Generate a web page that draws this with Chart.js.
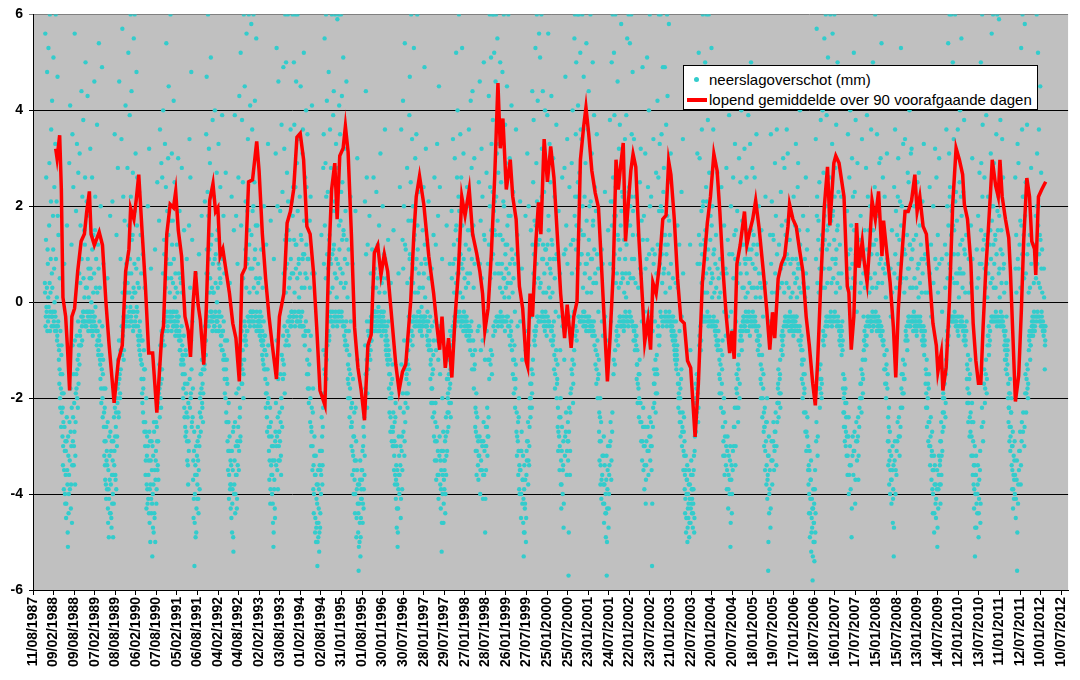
<!DOCTYPE html>
<html>
<head>
<meta charset="utf-8">
<script src="https://cdn.jsdelivr.net/npm/chart.js@4/dist/chart.umd.min.js"></script>
<style>
    html, body { margin: 0; padding: 0; background: #fff; }
    #wrap   { position: relative; width: 1080px; height: 680px; }
    #legend {
        position: absolute; left: 683px; top: 65px; width: 353px; height: 43px;
        background: #fff; border: 1px solid #000;
        font: 15px "Liberation Sans", Arial, sans-serif; color: #000;
    }
    .row    { position: absolute; left: 0; height: 18px; line-height: 18px; white-space: nowrap; }
    .row span.txt { position: absolute; left: 25px; top: 0; }
    .dot    { position: absolute; left: 10px; top: 6px; width: 5px; height: 5px; border-radius: 50%; background: #33CCCC; }
    .ln     { position: absolute; left: 3px; top: 7px; width: 20px; height: 4px; background: #FF0000; }
</style>
</head>
<body>
<div id="wrap">
    <canvas id="chart" width="1080" height="680"></canvas>
    <div id="legend">
        <div class="row" style="top:5px"><span class="dot"></span><span class="txt" id="lg0"></span></div>
        <div class="row" style="top:25px"><span class="ln"></span><span class="txt" id="lg1"></span></div>
    </div>
</div>
<script>
// x-axis tick labels (Excel date axis, one every 182 days)
const tickLabels = [
    "11/08/1987","09/02/1988","09/08/1988","07/02/1989","08/08/1989","06/02/1990","07/08/1990",
    "05/02/1991","06/08/1991","04/02/1992","04/08/1992","02/02/1993","03/08/1993","01/02/1994",
    "02/08/1994","31/01/1995","01/08/1995","30/01/1996","30/07/1996","28/01/1997","29/07/1997",
    "27/01/1998","28/07/1998","26/01/1999","27/07/1999","25/01/2000","25/07/2000","23/01/2001",
    "24/07/2001","22/01/2002","23/07/2002","21/01/2003","22/07/2003","20/01/2004","20/07/2004",
    "18/01/2005","19/07/2005","17/01/2006","18/07/2006","16/01/2007","17/07/2007","15/01/2008",
    "15/07/2008","13/01/2009","14/07/2009","12/01/2010","13/07/2010","11/01/2011","12/07/2011",
    "10/01/2012","10/07/2012"
];
const yTicks = [-6, -4, -2, 0, 2, 4, 6];

const seriesLabels = ["neerslagoverschot (mm)", "lopend gemiddelde over 90 voorafgaande dagen"];

// running 90-day mean: days since 11/08/1987, value in mm
const avgDays = [
    201,213,236,251,265,289,304,324,344,368,396,426,455,475,499,514,543,586,615,645,674,718,755,790,820,849,864,893,913,936,
    965,995,1024,1059,1096,1140,1155,1184,1214,1243,1263,1286,1315,1345,1374,1394,1418,1438,1461,1481,1511,1534,1564,1593,1616,1636,1656,1680,1709,1739,
    1768,1796,1826,1849,1879,1908,1943,1980,2001,2030,2059,2089,2118,2155,2181,2220,2249,2278,2307,2336,2365,2395,2424,2453,2482,2511,2540,2584,2614,2643,
    2671,2692,2715,2745,2765,2789,2818,2846,2876,2905,2934,2964,2993,3021,3051,3080,3109,3139,3182,3211,3240,3270,3299,3343,3371,3392,3421,3459,3503,3546,
    3576,3599,3620,3649,3678,3707,3736,3765,3795,3824,3861,3891,3926,3955,3979,3999,4028,4057,4086,4115,4136,4159,4189,4224,4246,4276,4305,4334,4364,4378,
    4399,4421,4451,4474,4495,4524,4553,4582,4611,4640,4670,4705,4728,4763,4786,4815,4845,4874,4894,4918,4946,4976,5005,5034,5064,5084,5107,5136,5160,5180,
    5200,5224,5244,5268,5291,5311,5335,5364,5393,5414,5443,5466,5486,5515,5545,5574,5603,5626,5646,5676,5705,5734,5764,5793,5821,5860,5889,5924,5968,5996,
    6026,6055,6079,6108,6136,6166,6186,6206,6230,6259,6297,6318,6346,6370,6396,6425,6464,6493,6521,6545,6565,6595,6624,6653,6682,6696,6726,6755,6784,6814,
    6843,6871,6901,6924,6945,6974,7003,7032,7053,7088,7105,7134,7149,7178,7207,7221,7242,7265,7289,7309,7339,7359,7382,7405,7426,7455,7484,7514,7528,7557,
    7586,7615,7636,7659,7680,7718,7746,7776,7805,7825,7849,7878,7907,7936,7965,7995,8009,8039,8053,8082,8111,8140,8170,8199,8228,8243,8271,8301,8321,8345,
    8368,8389,8409,8432,8455,8476,8490,8520,8543,8558,8578,8607,8636,8651,8671,8695,8724,8747,8768,8796,8820,8840,8864,8875,8899,8928,8963
];
const avgVals = [
    3.2,3.0,3.48,2.35,0.1,-0.3,-0.9,-1.84,-0.3,-0.13,0.65,1.27,1.42,1.88,2.31,1.42,1.19,1.46,1.19,0.02,-0.9,-2.1,-1.22,-0.9,0.64,1.1,1.96,1.73,2.12,2.66,
    1.5,0.33,-1.06,-1.06,-2.3,-0.68,-0.5,1.42,2.04,1.97,2.31,1.5,0.96,-0.3,-0.6,-1.14,0.02,0.65,-0.05,-0.37,-1.3,-0.13,2.12,2.47,1.89,1.97,0.96,1.11,0.65,0.18,
    -0.44,-0.75,-1.65,0.57,0.72,2.51,2.55,3.35,2.74,1.42,0.49,-0.3,-0.9,-1.6,-0.3,0.18,1.65,1.89,2.35,3.44,3.52,2.97,1.58,1.42,0.64,-0.52,-1.84,-2.15,0.64,2.35,
    2.9,1.73,3.05,3.21,3.67,3.13,1.42,-0.52,-1.37,-1.84,-2.46,-0.9,-0.68,1.03,1.19,0.57,1.0,0.64,-0.52,-1.3,-1.84,-1.45,-1.3,0.02,1.42,2.2,2.63,2.04,0.96,0.18,
    -0.52,-0.99,-0.3,-1.37,-0.75,-1.57,-0.3,0.64,2.2,1.81,2.35,1.42,1.03,0.64,0.18,-0.6,-0.13,1.03,2.59,4.57,3.21,3.83,2.35,2.97,2.2,1.73,0.33,-0.13,-1.22,-1.34,
    0.18,-0.3,1.27,2.08,1.42,3.4,2.51,3.25,2.59,1.42,0.18,-0.75,-0.05,-0.95,-0.3,0.02,2.97,3.67,4.06,3.52,2.74,2.28,1.97,0.64,-0.75,-1.65,-0.75,0.64,2.97,2.35,
    2.82,3.32,1.27,2.04,2.74,3.09,2.82,1.27,0.1,-0.83,-0.37,-0.99,0.41,0.18,0.8,1.73,1.81,2.94,2.66,1.73,0.49,-0.37,-0.44,-1.22,-1.37,-2.81,-1.7,0.4,1.65,2.2,
    3.09,2.74,1.89,0.64,-0.3,-1.06,-0.6,-1.18,0.8,1.19,1.89,1.19,1.5,1.73,2.12,1.58,0.64,-0.13,-0.99,-0.21,-0.75,0.49,0.8,0.96,1.58,2.04,1.73,1.58,1.1,0.64,
    -0.3,-0.9,-1.69,-2.15,-1.22,0.49,1.97,2.82,1.6,2.9,3.05,2.9,2.66,2.2,0.33,0.2,-0.99,-0.3,1.65,0.72,1.27,0.8,0.41,1.19,2.12,1.73,2.31,0.96,1.7,1.03,
    0.41,-0.52,-1.57,-0.13,0.64,1.89,1.89,2.12,2.66,1.89,2.2,1.58,1.42,0.49,-0.44,-0.9,-1.45,-1.05,-1.84,-1.37,0.02,2.04,3.21,2.97,2.66,2.04,1.73,0.8,-0.44,-1.22,
    -1.69,-1.69,-0.52,0.64,1.5,2.35,2.97,2.43,2.2,2.97,2.2,1.73,1.34,0.64,-0.6,-2.07,-1.53,-0.21,1.27,2.59,2.2,1.27,1.11,0.57,2.2,2.35,2.51
];

// daily precipitation surplus (mm). Each yearly list starts on 24/11 of the previous year:
// sYYYY holds days 0,4,8,... and mYYYY holds the days in between (2,6,10,...)
const SCATTER_STEP = 4;
const s1988 = [0.4,5.6,-0.3,2.6,-0.2,4.8,1.1,-0.4, 5.3,-0.3,2.9,6,-0.2,0.9,3.6,-0.5, 4.2,-0.3,1.8,5.1,-0.4,2.4,-0.2, 3.3,6,-0.6,2.1,-0.8,4.7,-0.5,1.4,
    -1.2,-1.7,0.5,-2.2,-1.5,-2.6,-0.9,-1.9, -2.8,-3.4,-2.5,-3.9,0.8,-3.1,-4.2, -3.6,-4.5,-2.9,1.6,-3.8,-5.1,-3.2,-4.0, 2.9,-3.3,4.1,-2.7,-3.8,1.2,-4.6,3.5,
    -2.9,2.4,-3.4,-2.1,5.6,-3.8,-2.5, 1.9,-1.8,3.3,-1.4,-2.2,2.7,-1.1,0.6, 3.1,-0.7,1.6,-0.9,4.4,-0.5,2.2, -0.3,3.8,-0.2,1.5,-0.4,2.6,5.0];
const m1988 = [0.2,-0.5,1.3,-0.1,0.3,-0.6,0.8,0.1, -0.1,1.6,0.4,-0.6,0.2,2.1,-0.3,0.6, 0.3,-0.2,1.1,-0.5,0.7,0.0,-0.6, -0.3,0.9,-0.5,0.1,-0.7,1.8,-0.4,-0.9,
    -1.0,-1.4,-2.0,-0.6,-1.8,-1.1,-2.3,-1.5, -2.2,-3.0,-1.9,-3.5,-2.6,-4.0,-2.9, -3.1,-4.2,-2.4,-3.5,-4.8,-2.8,-4.4,-3.6, -2.5,-3.9,-1.8,-4.3,-3.0,-2.2,-3.4,-0.9,
    -2.4,-1.5,-3.0,-2.7,-0.8,-3.2,-1.9, -1.5,-0.7,-2.0,-1.2,-0.4,-1.7,-0.9,-1.3, -0.6,0.4,-0.9,-0.3,0.9,-0.8,-0.4, -0.2,0.5,-0.4,0.1,1.2,-0.5,0.3];
const s1989 = [-0.2,2.1,-0.4,4.3,-0.3,0.7,-0.2,1.8, -0.4,3.2,-0.3,0.5,-0.5,2.6,-0.2,-0.6, 1.4,-0.4,4.6,-0.3,2.2,-0.5,0.9, -0.6,3.7,-0.8,1.2,-1.0,5.4,-0.7,0.3,
    -1.3,2.0,-1.8,-1.1,4.9,-2.0,-1.5,0.8, -2.6,-3.2,-2.2,-3.7,-2.9,-4.1,-3.3, -3.9,0.5,-4.3,-3.5,-4.9,-2.8,-3.7,1.8, -4.4,-3.1,-4.7,-3.6,2.1,-4.0,-2.9,-4.2,
    -3.4,3.5,-2.8,-3.7,-2.3,1.4,-3.0, -2.1,2.8,-1.7,-2.4,4.6,-1.5,-1.9,0.9, -1.0,3.4,-0.8,5.7,-0.6,2.2,-1.2, -0.4,1.7,-0.3,4.1,-0.5,0.6,-0.3];
const m1989 = [-0.5,0.3,-0.2,0.9,-0.6,0.1,-0.4,0.5, -0.2,0.7,-0.6,0.0,-0.4,1.1,-0.7,0.2, -0.3,0.6,-0.5,1.5,-0.1,0.3,-0.6, -0.9,0.2,-0.6,-1.1,0.7,-0.8,-0.4,-1.2,
    -1.6,-0.9,-2.1,-1.4,-0.5,-2.4,-1.2,-1.8, -2.3,-2.9,-3.4,-1.8,-3.8,-2.6,-3.1, -3.4,-2.5,-4.6,-3.9,-4.1,-3.2,-4.4,-2.7, -3.8,-4.5,-2.9,-4.2,-3.3,-4.9,-3.6,-2.4,
    -3.1,-2.2,-3.6,-2.6,-3.9,-2.0,-2.8, -1.8,-1.2,-2.3,-0.8,-1.6,-2.0,-1.0,-1.4, -0.8,-0.5,-1.1,0.2,-0.7,-0.3,-1.0, -0.3,0.4,-0.5,-0.1,0.8,-0.4,0.2];
const s1990 = [2.8,-0.3,5.2,0.6,-0.2,3.9,-0.4,6, -0.3,4.4,1.3,-0.2,2.7,-0.5,5.5,0.2, 6,-0.4,3.1,-0.3,4.8,1.6,-0.2, -0.7,0.9,-0.9,2.3,-0.6,-1.1,1.4,-0.8,
    -1.6,-1.3,-2.1,1.0,-1.8,-2.5,-1.4,0.3, -3.0,-3.6,-2.7,-4.3,-3.2,-3.9,2.0, -4.1,-3.3,3.2,-4.6,-2.9,-3.8,0.7,-4.4, -3.5,-5.3,-4.0,-3.2,-4.8,-2.7,-4.5,1.1,
    -3.7,-3.1,-4.2,-2.6,2.5,-3.4,-2.9, -2.2,1.7,-1.8,3.6,-2.0,-1.4,2.9,-1.6, 2.6,-0.8,4.0,-0.6,1.3,-0.9,3.3, -0.4,2.4,5.4,-0.3,1.9,-0.5,3.0];
const m1990 = [0.4,-0.3,1.6,-0.5,0.2,0.9,-0.1,2.2, 0.6,-0.4,0.1,1.4,-0.6,0.3,-0.2,0.8, 1.9,0.2,-0.5,0.7,-0.1,2.6,0.4, -0.5,-0.8,0.3,-1.0,-0.4,-0.7,-1.2,0.6,
    -1.3,-1.9,-0.8,-2.3,-1.6,-1.0,-2.7,-1.4, -2.5,-3.3,-2.0,-3.8,-2.8,-4.2,-3.0, -3.6,-4.4,-2.7,-3.9,-5.0,-3.3,-4.1,-2.9, -4.2,-3.0,-4.7,-3.8,-2.5,-4.4,-3.5,-5.0,
    -3.3,-2.5,-3.9,-2.9,-3.5,-2.1,-3.7, -1.9,-1.3,-2.4,-0.9,-1.7,-2.2,-0.6,-1.4, -0.7,0.6,-0.9,-0.4,1.0,-0.6,-0.2, 0.3,-0.4,0.9,-0.2,0.5,-0.6,1.4];
const s1991 = [4.5,-0.3,2.0,-0.2,6,0.8,-0.4,3.1, -0.3,1.7,-0.5,4.2,-0.2,2.5,-0.4,0.6, -0.5,-0.3,1.2,-0.6,-0.4,3.0,-0.3, -0.8,1.9,-0.7,-1.0,0.4,-1.2,2.8,-0.9,
    -1.5,-2.0,-1.3,1.5,-2.4,-1.7,-2.8,-1.1, -2.7,0.9,-3.3,-2.4,-3.8,-2.9,1.6, 3.4,-2.2,2.6,-1.9,4.8,-2.6,1.3,-2.4, -3.7,-4.5,-3.1,-5.5,-4.0,-3.4,0.6,-4.8,
    -3.6,-4.1,-2.9,-3.3,-4.4,1.0,-3.0, -2.3,-1.9,-2.7,-1.5,1.8,-2.1,-1.7,-2.5, -1.2,-0.9,-1.4,2.1,-0.8,-1.1,3.5, 4.7,-0.3,2.3,6,-0.4,3.2,1.1];
const m1991 = [0.8,-0.4,0.2,1.7,-0.3,0.5,-0.6,1.2, -0.2,0.4,-0.5,0.9,-0.4,0.1,-0.7,0.3, -0.6,-0.2,-0.5,0.2,-0.7,-0.3,0.6, -0.6,-1.0,0.5,-0.8,-1.3,-0.5,0.2,-1.1,
    -1.2,-1.8,-0.7,-2.2,-1.5,-2.6,-1.0,-1.9, -2.3,-2.9,-1.7,-3.4,-2.1,-3.1,-0.6, -1.6,0.3,-2.0,-0.8,-1.4,-2.5,-0.4,-1.8, -3.3,-4.1,-2.7,-4.6,-3.6,-4.9,-3.0,-4.3,
    -3.2,-3.8,-2.6,-4.1,-3.5,-2.8,-3.9, -2.0,-1.5,-2.4,-1.8,-1.2,-2.2,-1.4,-1.9, -1.0,-0.7,-1.3,-0.5,-1.1,-0.8,0.6, 1.1,-0.3,0.6,1.8,-0.5,0.9,0.2];
const s1992 = [2.9,-0.2,5.1,-0.3,1.4,-0.4,3.8,0.2, -0.3,2.2,-0.5,4.0,-0.2,1.0,-0.4,2.7, -0.4,1.5,-0.3,3.3,-0.6,0.7,-0.3, 2.4,-0.9,1.1,-0.7,3.9,-1.0,-0.6,1.8,
    -1.4,0.6,-1.9,-1.2,2.7,-2.3,-1.6,-0.8, -2.9,-3.5,-2.5,-4.1,-3.1,0.4,-3.8, -4.3,-3.4,2.2,-4.8,-3.9,-2.7,-5.2,1.5, -3.8,3.9,-4.4,-3.0,1.8,-3.6,-4.1,0.8,
    -3.0,2.6,-3.5,4.3,-2.4,-2.9,5.2, 1.6,-1.7,3.8,-1.4,2.5,-2.0,6,-1.2, 4.5,-0.7,2.1,-0.9,5.6,0.8,-0.6, 3.4,-0.3,6,1.2,-0.4,4.1,-0.2];
const m1992 = [0.5,-0.4,1.2,-0.2,0.3,-0.6,0.8,-0.3, 0.2,-0.5,0.9,-0.3,0.4,-0.6,1.3,0.0, -0.4,0.3,-0.6,0.8,-0.2,-0.5,0.5, 0.4,-0.7,-0.3,-1.0,0.9,-0.6,-1.2,-0.4,
    -1.1,-1.6,-0.8,-2.0,-1.4,-2.5,-1.2,-1.7, -2.5,-3.1,-2.1,-3.6,-2.8,-3.9,-3.3, -3.8,-4.5,-3.1,-4.2,-3.5,-4.9,-2.6,-4.0, -3.3,-2.5,-4.0,-3.6,-1.9,-4.3,-2.9,-3.4,
    -2.6,-1.8,-3.1,-0.9,-2.2,-2.8,-1.2, -1.3,-0.6,-1.7,-1.0,0.5,-1.5,-0.8,-0.4, -0.5,1.1,-0.8,0.3,-0.6,1.9,-0.3, 0.9,-0.4,1.5,0.2,-0.5,0.7,-0.2];
const s1993 = [5.8,-0.3,3.6,1.9,-0.2,6,-0.4,2.5, 4.2,-0.3,1.6,5.5,-0.2,3.0,-0.5,0.8, -0.4,-0.3,-0.6,0.5,-0.4,-0.7,1.1, -0.8,-1.1,0.3,-0.9,-1.3,2.0,-0.7,-1.0,
    -1.6,-2.2,1.2,-1.9,-2.7,-1.4,3.3,-2.0, -3.1,-3.7,-2.6,-4.2,1.7,-3.4,-2.8, -4.0,-3.3,-4.6,-5.1,0.9,-3.7,-4.3,-2.9, 3.1,-3.4,5.3,-2.8,2.0,-3.9,4.6,-3.0,
    -2.7,-3.3,1.9,-2.5,-3.6,3.7,-2.2, 2.3,-1.6,4.9,-1.3,3.2,-1.9,6,0.7, 5.0,-0.8,2.7,-0.6,6,1.5,-0.9, -0.4,1.3,-0.3,3.6,-0.5,2.1,-0.2];
const m1993 = [1.4,-0.4,0.7,-0.2,2.0,0.3,-0.5,0.9, 1.1,-0.3,0.5,-0.6,0.2,1.6,-0.4,0.4, -0.6,-0.4,-0.7,-0.2,-0.5,-0.8,-0.3, -0.9,-0.6,-1.2,-0.8,-0.4,-1.4,-1.0,-0.7,
    -1.4,-1.9,-1.1,-2.4,-1.7,-2.1,-0.9,-2.6, -2.8,-3.3,-2.2,-3.9,-2.5,-3.6,-3.0, -3.6,-4.2,-3.0,-4.8,-3.9,-3.3,-4.5,-2.7, -2.1,-3.0,-0.8,-3.5,-2.4,-1.6,-3.3,-2.7,
    -2.3,-2.9,-1.5,-3.2,-2.0,-1.1,-2.6, -1.2,-0.7,0.6,-1.5,-0.5,1.3,-0.9,0.2, 1.4,-0.6,0.8,-0.4,2.1,-0.7,0.3, -0.3,0.5,-0.5,0.9,-0.2,0.6,-0.4];
const s1994 = [6,2.4,-0.3,5.0,3.7,-0.2,6,1.2, 4.6,-0.3,2.9,6,-0.4,3.4,0.9,-0.2, 2.2,-0.4,4.5,-0.3,1.3,-0.5,3.1, 3.6,-0.7,5.2,1.0,-0.9,2.6,-0.6,4.0,
    2.4,-1.5,3.5,-1.8,0.9,-2.1,-1.3,1.7, -2.5,2.2,-3.0,-2.7,4.1,-3.5,-2.3, -3.9,-4.4,-3.2,0.6,-4.8,-3.6,-5.0,-4.1, -4.6,-5.5,-3.8,-4.9,-4.3,-5.2,-3.4,-4.7,
    -3.5,-4.0,1.4,-3.1,-3.8,-2.6,2.8, 3.5,-1.9,5.5,-1.5,2.9,6,-1.6,4.2, -0.9,2.3,-0.6,4.8,-0.8,1.4,3.6, -0.3,2.8,-0.4,6,1.0,-0.2,3.9];
const m1994 = [1.8,0.6,-0.3,1.3,0.2,-0.5,2.4,0.7, 1.2,-0.4,0.5,1.9,-0.2,0.8,0.1,-0.5, 0.6,-0.3,1.4,-0.5,0.3,-0.2,0.9, 1.0,-0.5,1.7,0.3,-0.7,0.6,-0.4,1.2,
    0.5,-1.2,0.9,-1.5,-0.6,-1.8,-1.0,0.3, -2.0,-0.7,-2.6,-2.2,0.6,-3.0,-1.8, -3.4,-4.0,-2.8,-3.6,-4.5,-3.2,-4.7,-3.8, -4.2,-5.0,-3.5,-4.6,-3.9,-4.8,-3.1,-4.4,
    -3.1,-3.6,-2.4,-2.8,-3.4,-2.2,-1.0, 0.8,-1.4,1.6,-1.1,0.5,2.2,-1.2,1.0, -0.6,0.7,-0.4,1.3,-0.7,0.2,0.9, -0.2,0.8,-0.4,1.9,0.3,-0.5,1.1];
const s1995 = [4.4,-0.3,2.1,6,-0.2,3.3,0.5,-0.4, 5.9,2.8,-0.3,6,4.1,-0.2,3.5,1.7, 6,-0.3,4.3,2.5,-0.4,5.1,1.4, -0.7,3.2,-0.9,1.9,-0.6,4.6,-1.0,0.8,
    -1.6,-2.0,1.1,-1.4,-2.4,-1.8,2.2,-2.6, -3.0,-2.5,-3.6,0.8,-3.2,-4.0,-2.8, -3.7,-4.4,1.9,-3.3,-4.9,-3.9,3.0,-4.2, -4.8,-5.6,-4.2,-5.0,-3.7,-5.3,-4.5,-3.9,
    -4.1,-3.5,-4.6,-3.0,-4.3,-2.8,-3.6, 2.1,-1.8,4.4,-1.5,2.6,-2.2,1.2,-1.4, -0.9,-1.1,1.8,-0.7,-1.2,0.6,-0.8, -0.4,1.1,-0.5,-0.3,2.6,-0.6,-0.2];
const m1995 = [1.2,-0.4,0.6,1.9,-0.3,0.9,0.1,-0.5, 2.0,0.8,-0.2,1.6,1.1,-0.4,0.7,0.4, 2.3,-0.2,1.3,0.6,-0.5,1.5,0.3, -0.5,0.9,-0.8,0.4,-0.4,1.3,-0.9,0.1,
    -1.3,-1.7,-0.6,-1.1,-2.0,-1.5,-0.4,-2.2, -2.6,-2.1,-3.1,-1.6,-2.8,-3.5,-2.3, -3.3,-4.0,-2.2,-2.9,-4.5,-3.5,-1.2,-3.8, -4.4,-5.1,-3.8,-4.6,-3.3,-4.9,-4.1,-3.5,
    -3.7,-3.1,-4.2,-2.6,-3.9,-2.4,-3.2, -0.9,-1.5,1.0,-1.2,-0.4,-1.9,-0.6,-1.1, -0.7,-0.9,-0.4,-0.6,-1.0,-0.3,-0.8, -0.3,-0.5,0.3,-0.4,0.6,-0.6,-0.2];
const s1996 = [0.7,-0.3,-0.5,2.3,-0.4,-0.2,1.2,-0.6, -0.4,1.6,-0.3,-0.5,3.1,-0.2,-0.4,0.4, -0.5,2.0,-0.3,-0.6,1.0,-0.4,3.6, -0.8,-1.0,-0.7,0.5,-1.2,-0.9,1.3,-1.1,
    -1.8,-2.3,-1.5,-2.7,0.4,-2.0,-2.9,-1.6, -3.0,-2.6,1.5,-3.5,-2.9,-3.8,-2.4, -4.1,-3.4,-4.7,-3.8,-5.1,-4.3,0.6,-3.6, -4.0,2.4,-3.4,-4.5,3.6,-3.1,-3.9,1.3,
    4.2,-2.7,2.0,-3.2,5.4,-2.5,1.1, -1.9,-1.5,2.8,-2.2,-1.3,1.7,-1.7,3.9, 4.7,-0.8,2.5,6,-0.6,3.4,-0.9, 2.0,-0.4,5.3,-0.3,1.4,3.0,-0.5];
const m1996 = [-0.2,-0.5,0.3,-0.4,-0.6,0.5,-0.3,-0.1, -0.5,0.2,-0.6,-0.3,0.6,-0.4,-0.7,-0.2, -0.4,0.5,-0.6,-0.2,-0.5,0.2,0.9, -0.6,-0.9,-1.1,-0.5,-0.8,-1.3,-0.4,-1.0,
    -1.5,-2.0,-1.2,-2.4,-1.7,-1.9,-2.6,-1.3, -2.7,-2.3,-3.0,-3.2,-2.5,-3.6,-2.1, -3.7,-3.0,-4.3,-3.5,-4.8,-3.9,-2.8,-3.2, -3.6,-2.2,-3.0,-4.1,-1.3,-2.8,-3.5,-1.9,
    0.7,-2.3,-0.8,-2.9,1.2,-2.1,-1.4, -1.6,-1.2,0.4,-1.9,-1.0,-0.3,-1.4,0.9, 1.0,-0.6,0.5,1.7,-0.4,0.8,-0.7, 0.4,-0.3,1.3,-0.5,0.2,0.7,-0.4];
const s1997 = [3.5,-0.3,6,1.1,-0.2,2.3,-0.4,0.3, -0.4,-0.3,-0.6,0.8,-0.5,-0.4,1.5,-0.3, 2.4,-0.4,4.9,0.9,-0.3,3.2,-0.5, -0.7,1.3,-0.9,-0.6,2.1,-1.0,-0.8,0.5,
    -1.6,-1.2,-2.1,0.7,-1.8,-2.4,-1.4,1.4, -2.8,2.6,-3.3,-2.5,1.2,-3.7,-2.9, 3.3,-3.6,1.8,-4.1,4.5,-3.2,2.4,-3.8, -4.3,-3.5,-5.2,0.9,-4.0,-3.1,-4.6,-3.7,
    -3.9,-3.3,-4.4,-2.8,-3.6,1.6,-3.1, -2.3,-1.9,-2.6,-1.5,-2.1,0.8,-1.7,-2.4, -0.9,1.9,-1.1,-0.7,3.4,-0.8,1.2, -0.4,3.0,-0.3,1.5,5.2,-0.2,2.6];
const m1997 = [0.9,-0.4,1.6,0.2,-0.5,0.6,-0.2,-0.6, -0.5,-0.6,-0.3,-0.1,-0.7,-0.5,0.3,-0.4, 0.6,-0.3,1.2,0.1,-0.5,0.8,-0.4, -0.5,-0.2,-0.8,-0.4,0.5,-0.9,-0.6,-0.3,
    -1.3,-1.0,-1.8,-0.5,-1.5,-2.1,-1.1,-0.8, -2.3,-0.4,-2.9,-2.1,-1.0,-3.3,-2.6, -0.8,-3.1,-1.2,-3.6,-0.5,-2.8,-1.5,-3.3, -3.9,-3.1,-4.6,-2.0,-3.6,-2.7,-4.2,-3.3,
    -3.5,-2.9,-4.0,-2.4,-3.2,-1.6,-2.7, -2.0,-1.6,-2.3,-1.2,-1.8,-0.6,-1.4,-2.1, -0.7,0.5,-0.9,-0.5,0.8,-0.6,0.2, -0.3,0.9,-0.5,0.4,1.6,-0.2,0.6];
const s1998 = [4.0,-0.3,2.2,6,-0.2,1.0,3.5,-0.4, 2.6,-0.3,5.3,0.7,-0.4,3.1,-0.2,1.9, -0.5,-0.4,1.2,-0.6,-0.3,2.4,-0.5, 1.5,-0.8,3.6,-0.7,2.0,-1.0,4.2,-0.6,
    2.8,-1.4,4.4,-1.1,1.6,-1.8,3.0,-1.3, -2.6,-3.1,-2.3,-3.6,-2.8,0.9,-3.4, -3.7,2.5,-3.2,4.6,-4.0,1.7,-3.3,3.2, -3.5,2.2,-4.1,-2.9,5.0,-3.6,1.3,-4.8,
    -3.0,-3.5,2.7,-2.6,-3.2,0.8,-2.8, 4.3,-1.6,6,2.4,-1.3,5.1,3.3,-1.5, 6,3.8,-0.7,6,5.2,2.1,-0.6, 4.6,6,-0.4,3.1,5.5,-0.3,2.7];
const m1998 = [1.3,-0.4,0.6,1.9,-0.3,0.2,1.0,-0.5, 0.8,-0.4,1.6,0.1,-0.6,0.9,-0.3,0.5, -0.6,-0.3,0.3,-0.7,-0.4,0.6,-0.5, 0.4,-0.6,1.1,-0.5,0.6,-0.8,1.5,-0.4,
    0.9,-1.1,1.4,-0.8,0.3,-1.4,0.8,-1.0, -2.2,-2.7,-1.9,-3.1,-2.4,-0.6,-2.9, -3.2,-0.5,-2.8,0.8,-3.5,-1.0,-2.9,0.5, -3.0,-0.8,-3.6,-2.5,1.4,-3.1,-1.2,-4.1,
    -2.6,-3.0,-0.6,-2.2,-2.8,-1.2,-2.4, 1.2,-1.2,2.0,0.5,-1.0,1.5,0.9,-1.1, 2.3,1.0,-0.5,1.9,1.5,0.6,-0.4, 1.4,2.2,-0.3,0.8,1.7,-0.5,0.6];
const s1999 = [3.3,-0.3,1.4,5.0,-0.2,2.5,-0.4,0.8, 4.8,-0.3,2.1,6,0.5,-0.4,3.7,1.2, 2.9,-0.4,4.5,1.6,-0.3,6,0.6, -0.7,3.0,-0.9,1.8,-0.6,4.1,-1.0,0.9,
    -1.5,2.3,-1.9,-1.2,0.8,-2.2,-1.6,3.6, -2.7,-3.2,1.4,-2.9,-3.6,-2.4,-3.9, -4.0,2.1,-3.5,-4.5,-3.1,0.7,-4.2,-3.7, -4.6,-5.3,-3.9,-4.8,-4.2,1.8,-5.0,-3.6,
    -3.3,3.1,-2.9,-3.8,2.0,-3.4,-2.6, -2.0,-2.4,1.5,-1.7,-2.2,4.4,-1.5,2.5, 3.8,-0.8,1.7,-0.9,5.3,-0.6,2.9, 6,-0.3,4.2,2.0,-0.4,5.6,1.3];
const m1999 = [0.8,-0.4,0.3,1.4,-0.3,0.6,-0.5,0.2, 1.3,-0.4,0.5,2.0,0.1,-0.6,1.0,0.3, 0.7,-0.3,1.2,0.4,-0.5,1.8,0.1, -0.5,0.8,-0.7,0.4,-0.4,1.1,-0.8,0.2,
    -1.2,0.5,-1.6,-0.9,-0.2,-1.8,-1.3,1.0, -2.3,-2.8,-0.5,-2.5,-3.1,-2.0,-3.4, -3.5,-0.4,-3.1,-4.0,-2.7,-1.2,-3.7,-3.2, -4.1,-4.8,-3.4,-4.3,-3.7,-1.0,-4.5,-3.1,
    -2.9,-0.6,-2.5,-3.3,-0.9,-3.0,-2.2, -1.7,-2.0,-0.3,-1.4,-1.9,1.2,-1.2,0.6, 1.0,-0.6,0.4,-0.7,1.6,-0.5,0.8, 2.1,-0.3,1.2,0.5,-0.4,1.8,0.3];
const s2000 = [5.1,1.8,-0.3,6,3.2,-0.2,4.4,0.9, -0.3,2.3,-0.4,4.0,-0.2,1.1,-0.5,2.8, 3.9,-0.3,5.6,1.5,-0.4,3.3,0.7, 2.5,-0.8,4.3,-0.6,1.2,-0.9,3.0,-0.7,
    -1.4,2.2,-1.8,0.9,-1.2,3.7,-2.0,-1.6, -2.6,-3.1,1.9,-2.8,-3.5,0.6,-2.4, -3.8,-4.3,-3.1,2.6,-4.0,-3.4,-4.7,1.0, 2.8,-3.2,4.7,-2.7,1.6,-3.6,3.4,-2.9,
    -3.3,-5.7,-2.7,2.4,-3.6,-2.3,1.2, -1.8,2.9,-1.5,4.0,-2.1,1.3,-1.3,5.5, 6,-0.7,3.5,5.0,-0.8,2.2,6, 4.1,-0.3,6,2.7,-0.4,5.2,3.6];
const m2000 = [1.5,0.4,-0.4,2.2,0.9,-0.3,1.2,0.2, -0.5,0.6,-0.6,1.1,-0.3,0.2,-0.7,0.8, 1.2,-0.4,1.8,0.3,-0.5,0.9,0.1, 0.6,-0.6,1.3,-0.5,0.2,-0.8,0.9,-0.4,
    -1.1,0.5,-1.5,-0.2,-1.0,1.0,-1.7,-1.3, -2.2,-2.7,-0.3,-2.4,-3.0,-1.0,-2.0, -3.3,-3.8,-2.6,-0.5,-3.5,-2.9,-4.2,-1.2, -0.6,-2.8,1.1,-2.3,-0.4,-3.1,0.8,-2.5,
    -2.9,-4.8,-2.2,-0.3,-3.1,-1.9,-0.6, -1.4,0.6,-1.2,1.3,-1.7,-0.2,-1.0,1.8, 2.2,-0.5,1.1,1.6,-0.6,0.7,2.5, 1.3,-0.3,2.0,0.8,-0.4,1.5,1.0];
const s2001 = [3.4,-0.3,6,1.4,-0.2,4.7,-0.4,2.2, -0.3,2.9,-0.5,5.4,0.8,-0.3,3.6,-0.4, 4.4,-0.3,2.0,-0.5,6,0.9,-0.4, 3.1,-0.7,5.0,1.7,-0.6,3.9,-0.9,2.4,
    -1.3,1.9,-1.7,3.5,-1.1,-2.0,0.7,-1.5, -2.7,-3.3,-2.4,-3.8,-2.9,-4.1,1.1, -3.6,0.8,-4.2,-3.2,-4.6,-3.8,2.3,-4.4, -4.9,-3.7,-5.7,-4.3,-3.5,1.5,-4.7,-4.0,
    -3.4,3.8,-2.9,2.1,-3.7,5.0,-2.7, 6,2.6,-1.5,5.2,3.9,-1.3,6,1.8, -0.8,2.4,-0.7,4.6,-0.9,1.3,3.2, -0.4,3.7,-0.3,1.6,5.8,-0.5,2.3];
const m2001 = [1.0,-0.4,2.0,0.3,-0.5,1.4,-0.2,0.6, -0.5,0.8,-0.6,1.7,0.2,-0.4,1.0,-0.6, 1.3,-0.4,0.5,-0.6,2.1,0.2,-0.5, 0.9,-0.5,1.6,0.4,-0.4,1.1,-0.7,0.6,
    -1.0,0.4,-1.4,1.0,-0.8,-1.6,-0.2,-1.2, -2.3,-2.9,-2.0,-3.4,-2.5,-3.7,-0.4, -3.2,-0.7,-3.8,-2.8,-4.2,-3.4,-0.3,-4.0, -4.4,-3.2,-5.0,-3.9,-3.0,-0.8,-4.3,-3.6,
    -3.0,0.8,-2.5,-0.4,-3.3,1.6,-2.3, 2.1,0.7,-1.2,1.8,1.0,-1.0,2.4,0.4, -0.6,0.6,-0.5,1.4,-0.7,0.3,0.9, -0.3,1.1,-0.5,0.4,1.9,-0.4,0.6];
const s2002 = [2.2,-0.3,-0.5,1.3,-0.4,3.4,-0.2,0.6, 3.9,-0.3,5.5,1.6,-0.4,6,2.4,-0.2, 5.4,2.0,-0.3,6,3.5,-0.4,4.8, 1.9,-0.8,3.4,-0.6,-1.0,2.2,-0.7,-0.9,
    -1.6,-1.3,-2.1,1.4,-1.8,-2.4,-1.5,2.5, -2.5,3.2,-2.9,1.7,-3.3,4.9,-2.6, -3.5,1.8,-3.9,-3.0,3.1,-4.2,-3.4,0.9, 5.1,-3.1,2.4,-3.6,4.0,-2.8,6,-3.3,
    -3.0,2.2,-3.5,-5.5,1.1,-2.6,3.4, -1.7,-2.1,1.0,-1.5,-2.3,2.7,-1.4,-1.9, 4.2,-0.7,2.6,6,-0.9,3.3,1.1, 6,-0.3,3.5,1.9,-0.4,4.9,2.3];
const m2002 = [0.5,-0.4,-0.6,0.2,-0.5,0.9,-0.3,0.1, 1.2,-0.4,1.7,0.4,-0.5,2.3,0.6,-0.3, 1.6,0.5,-0.4,2.2,0.9,-0.5,1.4, 0.5,-0.6,0.9,-0.5,-0.8,0.4,-0.5,-0.7,
    -1.3,-1.0,-1.7,0.3,-1.5,-2.0,-1.2,0.7, -2.1,0.6,-2.5,-0.4,-2.9,1.3,-2.2, -3.0,-0.2,-3.4,-2.6,0.7,-3.7,-2.9,-0.6, 1.3,-2.6,-0.2,-3.1,1.0,-2.4,2.0,-2.8,
    -2.5,-0.3,-3.0,-4.2,-0.6,-2.2,0.8, -1.4,-1.7,-0.4,-1.2,-1.9,0.6,-1.1,-1.5, 1.2,-0.5,0.6,1.9,-0.7,0.8,-0.2, 2.0,-0.3,1.0,0.4,-0.5,1.4,0.6];
const s2003 = [2.8,-0.3,4.9,1.2,-0.2,3.7,-0.4,6, 4.3,-0.3,2.5,5.8,-0.2,1.4,-0.4,3.1, -0.4,-0.5,-0.3,-0.6,0.5,-0.4,-0.7, -0.9,-1.1,-0.8,0.4,-1.3,-1.0,-1.2,1.6,
    -1.7,-2.2,-1.9,1.2,-2.5,-2.0,-2.8,-1.6, 2.3,-3.0,-2.6,3.4,-3.5,-2.7,-3.2, -3.9,-4.4,-3.5,-4.8,-4.0,-3.7,-5.0,-4.3, -4.5,-3.8,-4.9,-4.1,1.2,-4.6,-3.6,-4.2,
    -4.4,-3.9,-4.7,-4.2,-3.5,-4.8,-3.1, -2.4,-2.0,-2.7,-1.8,-2.3,3.1,-1.9,-2.5, 5.2,-0.9,3.0,-0.7,4.5,-1.0,1.9, 3.6,-0.4,6,2.1,-0.3,4.7,1.2];
const m2003 = [0.7,-0.4,1.4,0.2,-0.3,1.0,-0.5,1.8, 1.2,-0.4,0.6,1.7,-0.3,0.3,-0.5,0.8, -0.6,-0.7,-0.5,-0.8,-0.3,-0.6,-0.9, -1.0,-1.2,-0.7,-0.4,-1.4,-1.1,-0.9,0.3,
    -1.5,-2.0,-1.7,-0.6,-2.3,-1.8,-2.5,-1.4, -0.3,-2.7,-2.3,0.6,-3.1,-2.4,-2.9, -3.6,-4.1,-3.2,-4.5,-3.7,-3.4,-4.7,-4.0, -4.2,-3.5,-4.6,-3.8,-1.0,-4.3,-3.3,-3.9,
    -4.1,-3.6,-4.4,-3.9,-3.2,-4.5,-2.8, -2.1,-1.7,-2.4,-1.5,-2.0,0.8,-1.6,-2.2, 1.4,-0.7,0.8,-0.5,1.2,-0.8,0.4, 1.0,-0.3,2.0,0.5,-0.4,1.3,0.2];
const s2004 = [5.0,-0.3,2.4,6,0.9,-0.2,3.8,-0.4, 6,2.7,-0.3,4.5,1.8,-0.4,5.3,0.6, 2.0,-0.4,3.6,-0.3,1.1,-0.5,2.9, -0.7,1.4,-0.9,-0.6,2.7,-1.0,-0.8,0.5,
    -1.5,-1.9,0.9,-1.3,-2.2,2.4,-1.7,-1.1, -2.6,-3.2,-2.3,1.6,-3.6,-2.8,0.7, -3.4,2.8,-3.9,-3.1,1.3,-4.3,-3.6,3.9, -4.0,-3.3,-5.1,2.0,-3.7,-4.4,1.0,-3.5,
    2.6,-3.0,4.7,-2.6,3.3,-3.4,1.5, -1.8,-2.2,1.9,-1.6,-2.5,-1.4,3.0,-2.0, -0.8,2.5,-0.7,4.0,-1.0,1.7,-0.6, -0.4,1.2,-0.3,3.2,-0.5,0.8,-0.2];
const m2004 = [1.5,-0.4,0.6,2.1,0.2,-0.3,1.1,-0.5, 2.0,0.7,-0.4,1.3,0.4,-0.5,1.6,0.1, 0.5,-0.5,1.0,-0.4,0.2,-0.6,0.8, -0.5,0.3,-0.8,-0.4,0.7,-0.9,-0.6,0.1,
    -1.2,-1.6,0.2,-1.0,-1.9,0.6,-1.4,-0.8, -2.3,-2.9,-2.0,-0.2,-3.2,-2.5,-0.7, -3.0,0.6,-3.5,-2.8,-0.3,-3.9,-3.2,1.0, -3.7,-3.0,-4.6,-0.2,-3.4,-4.0,-0.6,-3.1,
    0.5,-2.6,1.4,-2.2,0.9,-3.0,-0.4, -1.5,-1.9,0.4,-1.3,-2.2,-1.1,0.8,-1.7, -0.6,0.6,-0.5,1.2,-0.8,0.3,-0.4, -0.3,0.3,-0.5,0.9,-0.4,0.1,-0.6];
const s2005 = [2.6,-0.3,0.9,-0.4,3.9,-0.2,1.5,-0.5, 3.3,-0.3,5.0,1.1,-0.4,2.8,-0.2,4.2, 1.4,-0.4,2.6,-0.3,0.7,-0.5,3.5, -0.8,1.2,-1.0,-0.7,2.0,-1.1,-0.9,0.4,
    -1.6,-2.0,1.5,-1.4,-2.4,0.6,-1.8,-2.7, -3.0,-2.6,-3.5,2.2,-2.9,-3.8,-2.5, -4.1,-3.6,-5.6,-3.2,-4.4,-3.9,1.4,-4.7, 3.5,-3.3,2.1,-3.8,4.9,-2.9,1.3,-3.5,
    -3.1,2.9,-2.7,1.8,-3.4,3.6,-2.5, -2.1,-1.7,-2.4,1.2,-1.9,-1.5,-2.2,2.3, -1.0,1.6,-0.8,-1.1,3.0,-0.7,0.9, 2.8,-0.4,4.4,-0.3,1.7,3.6,-0.5];
const m2005 = [0.6,-0.4,0.2,-0.6,1.1,-0.3,0.4,-0.7, 0.9,-0.4,1.5,0.3,-0.5,0.8,-0.3,1.2, 0.3,-0.5,0.7,-0.4,0.1,-0.6,1.0, -0.6,0.3,-0.8,-0.5,0.6,-0.9,-0.7,0.1,
    -1.3,-1.7,0.3,-1.1,-2.0,-0.3,-1.5,-2.3, -2.6,-2.2,-3.1,0.4,-2.5,-3.4,-2.0, -3.7,-3.2,-5.0,-2.8,-4.0,-3.5,-0.4,-4.3, 0.8,-2.9,0.2,-3.3,1.4,-2.5,-0.3,-3.0,
    -2.7,0.6,-2.3,0.2,-3.0,1.0,-2.1, -1.8,-1.4,-2.1,0.3,-1.6,-1.2,-1.9,0.7, -0.7,0.4,-0.6,-0.9,0.8,-0.5,0.2, 0.8,-0.3,1.4,-0.5,0.4,1.0,-0.4];
const s2006 = [3.1,-0.3,1.3,-0.4,4.6,-0.2,0.8,-0.5, -0.3,-0.4,0.9,-0.5,-0.3,2.2,-0.4,-0.6, 1.6,-0.4,3.3,-0.3,0.5,-0.5,2.4, 2.9,-0.8,1.5,-0.6,4.0,-0.9,0.7,-1.0,
    -1.6,-1.2,-2.0,1.8,-1.5,-2.3,-1.8,0.9, -2.7,2.6,-3.1,4.2,-2.8,1.5,-3.5, -3.8,-4.4,-3.5,-4.9,-4.1,-3.7,-5.2,-4.5, -4.7,-5.8,-4.3,-5.0,-4.6,-5.4,-3.9,-4.8,
    3.4,-2.9,5.7,2.2,-3.2,4.6,1.7, -1.8,2.5,-2.2,-1.6,3.8,-1.9,-2.0,1.4, 4.0,-0.8,2.7,-0.9,5.5,1.3,-0.7, 6,-0.4,3.9,1.5,-0.3,5.1,2.6];
const m2006 = [0.9,-0.4,0.3,-0.6,1.3,-0.3,0.1,-0.5, -0.5,-0.6,0.2,-0.4,-0.7,0.6,-0.3,-0.5, 0.4,-0.5,0.9,-0.3,0.1,-0.6,0.7, 0.8,-0.6,0.3,-0.5,1.2,-0.8,0.2,-0.7,
    -1.3,-1.0,-1.7,0.4,-1.2,-1.9,-1.5,0.1, -2.3,0.6,-2.7,1.1,-2.4,0.3,-3.0, -3.4,-4.0,-3.1,-4.4,-3.7,-3.3,-4.8,-4.1, -4.3,-5.3,-3.9,-4.6,-4.2,-5.0,-3.5,-4.4,
    0.9,-2.5,1.8,0.4,-2.8,1.3,0.2, -1.4,0.7,-1.8,-1.3,1.1,-1.6,-1.7,0.3, 1.2,-0.6,0.7,-0.7,1.8,0.3,-0.5, 2.0,-0.3,1.1,0.4,-0.5,1.6,0.7];
const s2007 = [4.2,-0.3,2.6,6,-0.2,1.7,-0.4,3.3, 5.6,1.9,-0.3,4.4,6,-0.2,2.8,0.9, 3.7,-0.4,1.5,5.0,-0.3,2.3,-0.5, -0.8,1.2,-0.9,-0.7,2.2,-1.1,-0.6,-1.0,
    -1.8,-2.3,-2.6,-1.9,-2.9,-2.1,-3.0,-2.4, -3.2,1.9,-3.6,3.5,-2.8,-4.0,2.6, -3.4,4.0,-3.9,1.6,-4.9,3.0,-3.2,2.2, -3.6,5.2,-3.1,2.3,-4.2,3.8,-2.9,1.0,
    -3.3,2.9,-2.8,-3.7,4.5,-2.6,1.3, -2.0,1.8,-1.7,-2.3,3.4,-1.5,-1.9,0.6, -1.0,-0.8,1.5,-1.2,-0.7,2.8,-0.9, 3.9,-0.4,2.2,-0.3,4.8,1.0,-0.5];
const m2007 = [1.2,-0.4,0.7,2.0,-0.3,0.4,-0.5,0.9, 1.8,0.5,-0.4,1.3,2.2,-0.3,0.8,0.2, 1.1,-0.5,0.4,1.6,-0.4,0.6,-0.6, -0.6,0.3,-0.7,-0.5,0.6,-0.9,-0.4,-0.8,
    -1.5,-2.0,-2.3,-1.6,-2.6,-1.8,-2.7,-2.1, -2.8,0.5,-3.2,1.0,-2.4,-3.6,0.7, -3.0,1.1,-3.4,0.3,-4.3,0.8,-2.8,0.5, -3.1,1.5,-2.7,0.4,-3.7,1.0,-2.5,-0.2,
    -2.9,0.8,-2.4,-3.2,1.3,-2.2,0.2, -1.7,0.4,-1.4,-2.0,0.9,-1.2,-1.6,-0.3, -0.8,-0.6,0.3,-0.9,-0.5,0.7,-0.7, 1.1,-0.3,0.6,-0.5,1.5,0.2,-0.4];
const s2008 = [2.0,-0.3,3.6,-0.4,1.2,-0.2,5.0,-0.5, 4.1,-0.3,2.4,6,-0.2,1.3,-0.4,3.5, -0.4,1.8,-0.3,-0.5,2.9,-0.4,-0.6, 3.0,-0.7,5.4,1.6,-0.8,2.6,-0.9,4.3,
    -1.4,2.2,-1.7,0.8,-2.0,-1.3,3.1,-1.8, -2.9,-3.4,-2.6,-3.8,-3.1,-4.0,0.7, -3.7,-4.2,1.5,-3.5,-4.6,-3.9,-5.3,2.4, -3.3,3.6,-4.0,1.9,-3.6,4.8,-2.9,2.2,
    3.0,-2.8,4.5,-3.2,2.1,-2.6,5.3, -1.8,2.0,-2.2,-1.5,3.3,-1.9,1.1,-1.6, 3.4,-0.8,1.9,-0.7,4.6,-1.0,2.7, -0.4,2.5,-0.3,4.0,1.2,-0.5,3.1];
const m2008 = [0.5,-0.4,1.0,-0.6,0.3,-0.3,1.5,-0.5, 1.2,-0.4,0.6,1.9,-0.3,0.3,-0.6,1.0, -0.5,0.4,-0.6,-0.4,0.8,-0.5,-0.7, 0.9,-0.5,1.6,0.4,-0.6,0.7,-0.8,1.2,
    -1.1,0.6,-1.4,0.1,-1.7,-1.0,0.9,-1.5, -2.4,-2.9,-2.2,-3.3,-2.7,-3.5,-0.3, -3.2,-3.7,0.2,-3.0,-4.1,-3.4,-4.7,0.6, -2.9,1.0,-3.5,0.3,-3.1,1.4,-2.5,0.5,
    0.8,-2.4,1.3,-2.8,0.4,-2.2,1.6, -1.5,0.5,-1.9,-1.2,1.0,-1.6,0.2,-1.3, 1.0,-0.6,0.5,-0.5,1.4,-0.8,0.7, -0.3,0.7,-0.5,1.2,0.3,-0.4,0.9];
const s2009 = [3.2,-0.3,1.1,-0.4,4.5,-0.2,2.0,-0.5, -0.4,-0.3,1.4,-0.6,-0.5,2.5,-0.3,0.8, 2.7,-0.4,1.6,-0.3,4.1,-0.5,0.9, -0.8,2.1,-0.9,-0.7,3.3,-1.1,-0.8,1.0,
    -1.7,-2.2,-1.5,-2.6,0.8,-2.0,-2.9,-1.8, -3.0,2.4,-3.4,-2.8,1.2,-3.7,-3.1, -3.9,-4.4,2.0,-3.5,-4.8,-3.8,3.2,-4.2, -4.5,2.6,-3.9,-5.1,1.4,-4.3,-3.6,3.0,
    -3.8,-3.3,-4.2,-2.9,-3.6,0.9,-3.1, -2.3,-1.9,-2.6,-2.0,-1.7,1.2,-2.4,-1.5, 3.6,-0.8,2.0,-0.9,5.4,-0.7,3.1, 6,2.4,-0.4,4.7,6,1.9,-0.3];
const m2009 = [0.9,-0.4,0.3,-0.6,1.3,-0.3,0.5,-0.5, -0.6,-0.4,0.3,-0.7,-0.5,0.7,-0.4,0.1, 0.8,-0.5,0.4,-0.4,1.2,-0.6,0.2, -0.6,0.6,-0.8,-0.5,0.9,-0.9,-0.6,0.2,
    -1.4,-1.9,-1.2,-2.2,0.2,-1.7,-2.5,-1.5, -2.5,0.6,-3.0,-2.4,-0.3,-3.2,-2.7, -3.5,-4.0,0.4,-3.2,-4.4,-3.4,0.9,-3.8, -4.1,0.7,-3.5,-4.7,0.2,-3.9,-3.2,0.8,
    -3.4,-2.9,-3.8,-2.5,-3.2,-0.2,-2.7, -2.0,-1.6,-2.3,-1.7,-1.4,0.3,-2.1,-1.2, 1.0,-0.6,0.5,-0.7,1.6,-0.5,0.8, 2.2,0.7,-0.3,1.4,2.0,0.5,-0.4];
const s2010 = [5.0,-0.3,3.4,1.5,-0.2,6,-0.4,2.3, -0.4,1.7,-0.3,3.6,-0.5,0.6,-0.3,2.5, 4.0,-0.4,2.2,5.5,-0.3,1.3,-0.5, 2.3,-0.8,3.8,-0.7,1.0,-0.9,4.6,-0.6,
    -1.6,-2.1,-1.4,-2.5,0.9,-1.9,-2.8,-1.5, -2.7,1.6,-3.2,-2.5,3.0,-3.6,-2.9, -3.8,-4.3,-3.4,-5.3,-4.0,-3.6,-4.7,1.1, -4.4,-3.8,1.8,-4.9,-4.1,2.7,-3.5,-4.6,
    5.0,2.9,-2.6,6,3.7,-2.9,4.4, -1.7,2.6,-2.1,1.4,-1.5,3.9,-1.9,0.8, -0.9,2.2,-0.7,-1.1,4.1,-0.8,1.5, 3.1,-0.4,5.6,2.0,-0.3,6,1.2];
const m2010 = [1.6,-0.4,1.0,0.4,-0.3,2.1,-0.5,0.6, -0.5,0.4,-0.6,1.0,-0.7,0.1,-0.5,0.7, 1.2,-0.5,0.6,1.8,-0.4,0.3,-0.6, 0.6,-0.6,1.1,-0.5,0.2,-0.8,1.4,-0.4,
    -1.3,-1.8,-1.1,-2.1,0.2,-1.6,-2.4,-1.2, -2.3,0.4,-2.8,-2.1,0.9,-3.2,-2.5, -3.4,-3.9,-3.0,-4.7,-3.6,-3.2,-4.2,0.3, -4.0,-3.4,0.5,-4.4,-3.7,0.8,-3.1,-4.2,
    1.5,0.8,-2.2,2.2,1.1,-2.5,1.3, -1.4,0.7,-1.8,0.3,-1.2,1.2,-1.6,0.1, -0.7,0.6,-0.5,-0.9,1.2,-0.6,0.4, 0.9,-0.3,1.7,0.5,-0.4,2.0,0.3];
const s2011 = [2.9,-0.3,4.6,1.3,-0.2,3.5,-0.4,6, 4.8,-0.3,2.2,5.9,0.7,-0.4,3.8,-0.2, 1.5,-0.4,3.4,-0.3,2.6,-0.5,0.8, -0.9,-1.2,-0.8,-1.4,0.4,-1.1,-1.5,-1.0,
    -2.0,-2.5,-2.2,-2.9,-1.9,-3.1,-2.6,-2.3, -3.4,-3.9,-3.0,-4.3,-3.6,-4.1,-3.3, -4.0,2.6,-4.5,1.4,-3.7,-5.6,3.3,-4.2, 2.9,-3.5,4.2,-3.1,1.7,-3.8,5.3,-2.9,
    3.6,6,-2.7,4.9,2.2,-3.0,5.8, -1.9,2.5,-2.3,-1.6,3.7,-1.8,-2.0,1.2, -1.0,-0.8,1.4,-1.2,-0.9,2.8,-0.7, -0.4,-0.3,-0.6,-0.5,0.4,-0.3,-0.6];
const m2011 = [0.8,-0.4,1.4,0.3,-0.3,1.0,-0.5,1.9, 1.5,-0.4,0.6,1.8,0.1,-0.5,1.1,-0.3, 0.4,-0.5,1.0,-0.4,0.7,-0.6,0.2, -0.7,-1.0,-0.6,-1.2,-0.3,-0.9,-1.3,-0.8,
    -1.7,-2.2,-1.9,-2.6,-1.6,-2.8,-2.3,-2.0, -3.0,-3.5,-2.7,-3.9,-3.2,-3.7,-2.9, -3.6,0.7,-4.1,0.2,-3.3,-4.8,0.9,-3.8, 0.7,-3.1,1.2,-2.7,0.3,-3.4,1.6,-2.5,
    1.0,2.2,-2.3,1.4,0.5,-2.6,1.8, -1.5,0.6,-1.9,-1.3,1.0,-1.4,-1.7,0.2, -0.7,-0.6,0.3,-0.9,-0.7,0.8,-0.5, -0.6,-0.5,-0.7,-0.4,-0.2,-0.6,-0.5];
const s2012 = [4.4,1.8,-0.3,6,3.1,-0.2,5.2,2.0, 3.6,-0.3,1.4,4.5,-0.4,2.7,-0.2,1.1, -0.5,-0.4,-0.6,0.7,-0.5,-1.4,-0.8];
const m2012 = [1.2,0.5,-0.4,2.0,0.8,-0.3,1.6,0.4, 1.0,-0.4,0.3,1.3,-0.5,0.7,-0.3,0.2, -0.6,-0.5,-0.7,0.1,-0.6,-0.9,-0.5];

const surplusYears = [
    [s1988, m1988], [s1989, m1989], [s1990, m1990], [s1991, m1991], [s1992, m1992], [s1993, m1993],
    [s1994, m1994], [s1995, m1995], [s1996, m1996], [s1997, m1997], [s1998, m1998], [s1999, m1999],
    [s2000, m2000], [s2001, m2001], [s2002, m2002], [s2003, m2003], [s2004, m2004], [s2005, m2005],
    [s2006, m2006], [s2007, m2007], [s2008, m2008], [s2009, m2009], [s2010, m2010], [s2011, m2011],
    [s2012, m2012]
];

const BASE = Date.UTC(1987, 7, 11);
function dayOf(str) {
    const [d, m, y] = str.split("/").map(Number);
    return Math.round((Date.UTC(y, m - 1, d) - BASE) / 86400000);
}

const tickDays = tickLabels.map(dayOf);

const scatterPts = [];
surplusYears.forEach(([main, mid], k) => {
    const start = dayOf("24/11/" + (1987 + k));
    main.forEach((v, i) => scatterPts.push({ x: start + i * SCATTER_STEP, y: v }));
    mid.forEach((v, i)  => scatterPts.push({ x: start + 2 + i * SCATTER_STEP, y: v }));
});
const avgPts = avgDays.map((d, i) => ({ x: d, y: avgVals[i] }));

document.getElementById("lg0").textContent = seriesLabels[0];
document.getElementById("lg1").textContent = seriesLabels[1];

const FONT = '"Liberation Sans", Arial, sans-serif';
Chart.defaults.font.family = FONT;
Chart.defaults.color       = "#000";

const plotBg = {
    id: "plotBg",
    beforeDraw(chart) {
        const { ctx, chartArea: a } = chart;
        ctx.save();
        ctx.fillStyle = "#C0C0C0";
        ctx.fillRect(a.left, a.top, a.right - a.left, a.bottom - a.top);
        ctx.restore();
    }
};

new Chart(document.getElementById("chart").getContext("2d"), {
    type: "scatter",
    data: {
        datasets: [
            {
                label          : seriesLabels[1],
                data           : avgPts,
                showLine       : true,
                borderColor    : "#FF0000",
                backgroundColor: "#FF0000",
                borderWidth    : 3.5,
                pointRadius    : 0,
                tension        : 0,
                order          : 0
            },
            {
                label          : seriesLabels[0],
                data           : scatterPts,
                backgroundColor: "#33CCCC",
                borderWidth    : 0,
                pointRadius    : 2.2,
                order          : 1
            }
        ]
    },
    options: {
        responsive      : false,
        animation       : false,
        devicePixelRatio: 1,
        layout          : { padding: { top: 13, right: 0, bottom: 0, left: 0 } },
        plugins         : { legend: { display: false }, tooltip: { enabled: false } },
        scales: {
            x: {
                type: "linear",
                min : 0,
                max : 9161,
                grid  : { drawOnChartArea: false, tickLength: 5, color: "#000" },
                border: { color: "#000", width: 1 },
                ticks : {
                    autoSkip   : false,
                    maxRotation: 90,
                    minRotation: 90,
                    padding    : 2,
                    color      : "#000",
                    font       : { size: 14, weight: "bold" },
                    callback   : (v, i) => tickLabels[i]
                },
                afterBuildTicks: s => { s.ticks = tickDays.map(v => ({ value: v })); },
                afterFit       : s => { s.height = 90; }
            },
            y: {
                min: -6,
                max: 6,
                grid  : { color: c => (c.tick && c.tick.value === 6 ? "#808080" : "#000"), tickLength: 4 },
                border: { color: "#000", width: 1 },
                ticks : { stepSize: 2, padding: 6, color: "#000", font: { size: 14, weight: "bold" } },
                afterBuildTicks: s => { s.ticks = yTicks.map(v => ({ value: v })); },
                afterFit       : s => { s.width = 33; }
            }
        }
    },
    plugins: [plotBg]
});
</script>
</body>
</html>
